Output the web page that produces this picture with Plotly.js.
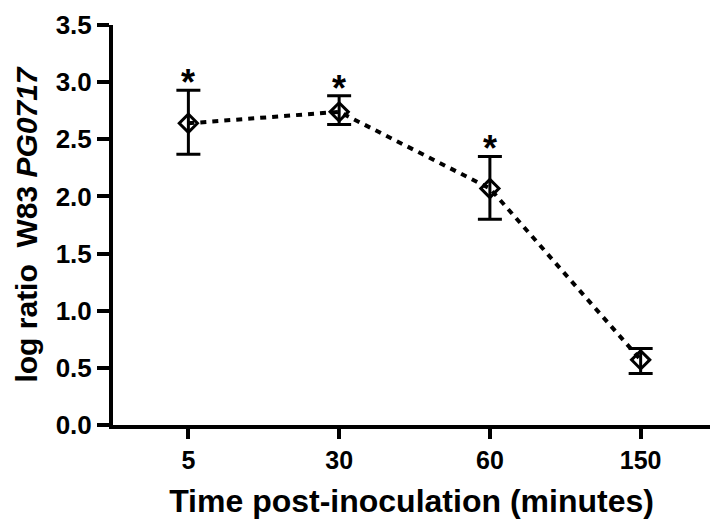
<!DOCTYPE html>
<html><head><meta charset="utf-8">
<script src="https://cdn.plot.ly/plotly-3.0.1.min.js"></script>
<style>body{margin:0;background:#fff}#c{width:710px;height:520px}</style>
</head><body><div id="c"></div>
<script>
const categories = ["5", "30", "60", "150"];
const means = [2.64, 2.74, 2.07, 0.57];
const errUp = [0.29, 0.14, 0.28, 0.10];
const errDown = [0.27, 0.11, 0.27, 0.12];
const significant = [true, true, true, false];
const yTicks = [0, 0.5, 1.0, 1.5, 2.0, 2.5, 3.0, 3.5];

const F = 'Liberation Sans, Arial, sans-serif';
const annotations = [];
categories.forEach((c, i) => {
  if (significant[i]) annotations.push({
    x: i, y: means[i] + errUp[i], xref: 'x', yref: 'y', text: '<b>*</b>', showarrow: false,
    yanchor: 'bottom', yshift: -15, font: {family: F, size: 36, color: '#000'}
  });
});

const trace = {
  x: categories.map((c, i) => i), y: means, type: 'scatter', mode: 'lines+markers',
  line: {color: '#000', width: 4, dash: '6px,6px'},
  marker: {symbol: 'diamond-open', size: 14, color: '#000', line: {width: 3, color: '#000'}},
  error_y: {type: 'data', symmetric: false, array: errUp, arrayminus: errDown,
            color: '#000', thickness: 3, width: 12},
  cliponaxis: false
};

const layout = {
  width: 710, height: 520, showlegend: false,
  paper_bgcolor: '#fff', plot_bgcolor: '#fff',
  margin: {l: 113, r: 0, t: 25, b: 95},
  font: {family: F, color: '#000'},
  xaxis: {range: [-0.5, 3.46], tickvals: categories.map((c, i) => i), ticktext: categories.map(c => '<b>' + c + '</b>'),
          showline: true, linewidth: 4, linecolor: '#000',
          ticks: 'outside', ticklen: 10, tickwidth: 4, tickcolor: '#000', showgrid: false, zeroline: false,
          tickfont: {size: 25, family: F},
          title: {text: '<b>Time post-inoculation (minutes)</b>', font: {size: 32}, standoff: 18}},
  yaxis: {range: [0, 3.5], tickvals: yTicks, ticktext: yTicks.map(v => '<b>' + v.toFixed(1) + '</b>'),
          showline: true, linewidth: 4, linecolor: '#000',
          ticks: 'outside', ticklen: 12, tickwidth: 4, tickcolor: '#000', showgrid: false, zeroline: false,
          tickfont: {size: 26, family: F},
          title: {text: '<b>log ratio  W83 <i>PG0717</i></b>', font: {size: 30}, standoff: 10}},
  annotations: annotations
};
Plotly.newPlot('c', [trace], layout, {displayModeBar: false, staticPlot: true});
</script></body></html>
